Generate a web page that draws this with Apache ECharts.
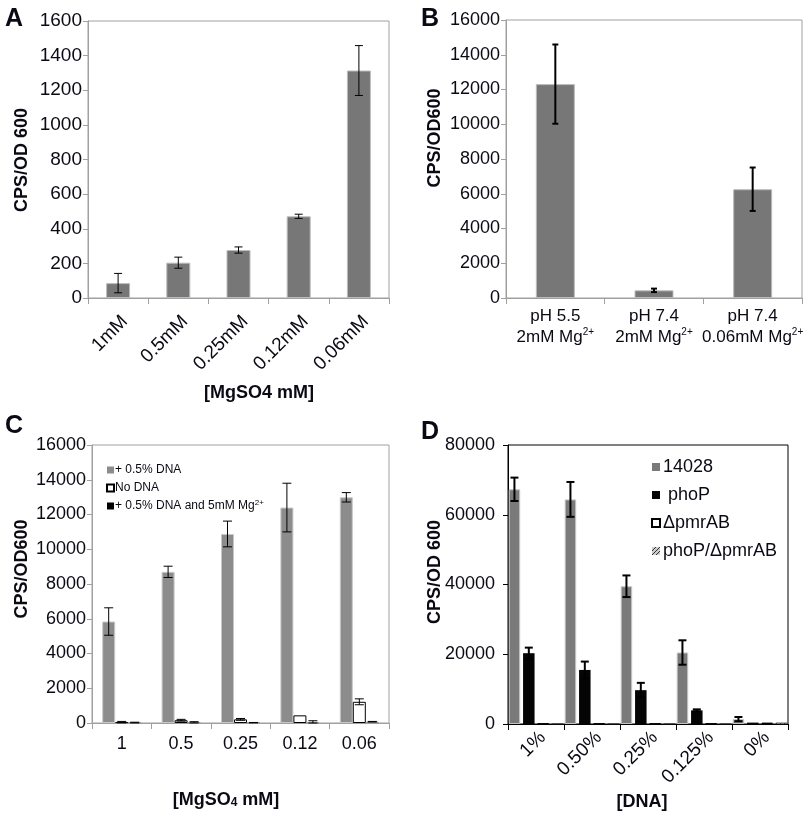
<!DOCTYPE html>
<html>
<head>
<meta charset="utf-8">
<script src="https://cdn.jsdelivr.net/npm/echarts@6/dist/echarts.min.js"></script>
<style>
  html, body { margin: 0; padding: 0; background: #fff; }
  #chart { width: 809px; height: 817px; }
</style>
</head>
<body>
<div id="chart"></div>
<script>
// panel A
var aCats = ['1mM', '0.5mM', '0.25mM', '0.12mM', '0.06mM'];
var aVals = [86, 204, 277, 472, 1314];
var aErr = [56, 32, 18, 12, 144];

// panel B
var bCats = ['pH 5.5\n2mM Mg{s|2+}', 'pH 7.4\n2mM Mg{s|2+}', 'pH 7.4\n0.06mM Mg{s|2+}'];
var bVals = [12310, 440, 6260];
var bErr = [2280, 100, 1250];

// panel C
var cCats = ['1', '0.5', '0.25', '0.12', '0.06'];
var cNames = ['+ 0.5% DNA', 'No DNA', '+ 0.5% DNA and 5mM Mg2+'];
var cDna = [5840, 8700, 10880, 12400, 12990];
var cDnaErr = [790, 325, 740, 1400, 270];
var cNoDna = [50, 160, 210, 440, 1220];
var cNoDnaErr = [40, 50, 50, 0, 170];
var cDnaMg = [25, 40, 20, 60, 75];
var cDnaMgErr = [20, 35, 10, 70, 15];

// panel D
var dCats = ['1%', '0.50%', '0.25%', '0.125%', '0%'];
var dNames = ['14028', 'phoP', '\u0394pmrAB', 'phoP/\u0394pmrAB'];
var dWt = [67300, 64400, 39500, 20500, 1400];
var dWtErr = [3350, 5000, 3100, 3500, 600];
var dPhoP = [20300, 15500, 9700, 3900, 400];
var dPhoPErr = [1600, 2400, 2100, 300, 0];
var dPmr = [150, 150, 150, 150, 400];
var dPhoPPmr = [150, 150, 150, 150, 400];

var FONT = "'Liberation Sans', Arial, sans-serif";
var TXT = '#0a0a14';

// hatch pattern for phoP/ΔpmrAB
var hatch = document.createElement('canvas');
hatch.width = 4; hatch.height = 4;
(function () {
  var ctx = hatch.getContext('2d');
  ctx.fillStyle = '#ccc';
  ctx.fillRect(0, 0, 4, 4);
  ctx.strokeStyle = '#333';
  ctx.lineWidth = 1;
  ctx.beginPath();
  ctx.moveTo(0, 4); ctx.lineTo(4, 0);
  ctx.moveTo(-1, 1); ctx.lineTo(1, -1);
  ctx.moveTo(3, 5); ctx.lineTo(5, 3);
  ctx.stroke();
})();

function pairs(vals, errs) {
  return vals.map(function (v, i) { return [i, v, errs[i]]; });
}

// error bars drawn through the axes of one grid
function errSeries(idx, vals, errs, offset, cap, lw) {
  return {
    type: 'custom',
    xAxisIndex: idx,
    yAxisIndex: idx,
    z: 5,
    silent: true,
    data: pairs(vals, errs),
    encode: { x: 0, y: 1 },
    renderItem: function (params, api) {
      var x = api.value(0), v = api.value(1), e = api.value(2);
      if (!e) return null;
      var hi = api.coord([x, v + e]);
      var lo = api.coord([x, Math.max(0, v - e)]);
      var cx = hi[0] + offset;
      var st = { stroke: '#000', lineWidth: lw };
      return {
        type: 'group',
        children: [
          { type: 'line', shape: { x1: cx, y1: hi[1], x2: cx, y2: lo[1] }, style: st },
          { type: 'line', shape: { x1: cx - cap / 2, y1: hi[1], x2: cx + cap / 2, y2: hi[1] }, style: st },
          { type: 'line', shape: { x1: cx - cap / 2, y1: lo[1], x2: cx + cap / 2, y2: lo[1] }, style: st }
        ]
      };
    }
  };
}

function yAx(idx, max, interval, lineColor, margin, size) {
  return {
    type: 'value', gridIndex: idx, min: 0, max: max, interval: interval,
    splitLine: { show: false },
    axisLine: { show: true, lineStyle: { color: lineColor } },
    axisTick: { show: true, length: 5, lineStyle: { color: lineColor } },
    axisLabel: {
      color: TXT, fontSize: size, fontFamily: FONT, margin: margin,
      formatter: function (v) { return String(v); }
    }
  };
}

function xAx(idx, cats, lineColor, label) {
  return {
    type: 'category', gridIndex: idx, data: cats,
    axisLine: { show: true, lineStyle: { color: lineColor } },
    axisTick: { show: true, length: 6, lineStyle: { color: lineColor } },
    axisLabel: Object.assign({ color: TXT, fontFamily: FONT, interval: 0 }, label)
  };
}

function txt(text, x, y, size, rot, extra) {
  return {
    type: 'text', x: x, y: y, rotation: rot || 0,
    style: Object.assign({
      text: text, fill: TXT, font: 'bold ' + size + 'px ' + FONT,
      textAlign: 'center', textVerticalAlign: 'middle'
    }, extra || {})
  };
}

function legendItem(name, border) {
  return border ? name : { name: name, itemStyle: { borderWidth: 0 } };
}

var chart = echarts.init(document.getElementById('chart'));

var option = {
  animation: false,
  backgroundColor: '#fff',
  grid: [
    { left: 88, top: 21, width: 301, height: 277, show: true, borderColor: '#a0a0a0', borderWidth: 1 },
    { left: 506, top: 20, width: 296, height: 278, show: true, borderColor: '#a0a0a0', borderWidth: 1 },
    { left: 92, top: 445, width: 297, height: 278, show: true, borderColor: '#a0a0a0', borderWidth: 1 },
    { left: 508, top: 445, width: 280, height: 279, show: true, borderColor: '#000', borderWidth: 1 }
  ],
  xAxis: [
    xAx(0, aCats, '#a0a0a0', {
      fontSize: 19, rotate: 45, margin: 14, align: 'right', verticalAlign: 'top'
    }),
    xAx(1, bCats, '#a0a0a0', {
      fontSize: 17, lineHeight: 21, margin: 8,
      rich: { s: { fontSize: 10, verticalAlign: 'top', color: TXT, fontFamily: FONT, lineHeight: 21 } }
    }),
    xAx(2, cCats, '#a0a0a0', { fontSize: 18, margin: 12 }),
    xAx(3, dCats, '#000', {
      fontSize: 19, rotate: 45, margin: 4, align: 'right', verticalAlign: 'top'
    })
  ],
  yAxis: [
    yAx(0, 1600, 200, '#a0a0a0', 6, 19),
    yAx(1, 16000, 2000, '#a0a0a0', 6, 18),
    yAx(2, 16000, 2000, '#a0a0a0', 6, 18),
    yAx(3, 80000, 20000, '#000', 13, 18)
  ],
  legend: [
    {
      data: [legendItem(cNames[0]), legendItem(cNames[1], true), legendItem(cNames[2])],
      orient: 'vertical', left: 101, top: 458,
      icon: 'rect', itemWidth: 7, itemHeight: 7, itemGap: 4,
      textStyle: {
        fontSize: 12, lineHeight: 14, color: TXT, fontFamily: FONT, padding: [0, 0, 0, -4],
        rich: { sup: { fontSize: 8, verticalAlign: 'top', color: TXT, fontFamily: FONT } }
      },
      formatter: function (n) { return n.replace('Mg2+', 'Mg{sup|2+}'); }
    },
    {
      data: [legendItem(dNames[0]), legendItem(dNames[1]), legendItem(dNames[2], true), legendItem(dNames[3])],
      orient: 'vertical', left: 646, top: 452,
      icon: 'rect', itemWidth: 8, itemHeight: 8, itemGap: 8,
      textStyle: { fontSize: 18, lineHeight: 20, color: TXT, fontFamily: FONT, padding: [0, 0, 0, -2] },
      formatter: function (n) { return n === 'phoP' ? ' phoP' : n; }
    }
  ],
  series: [
    {
      type: 'bar', xAxisIndex: 0, yAxisIndex: 0, data: aVals, barWidth: 24,
      itemStyle: { color: '#777', borderColor: '#bcbcbc', borderWidth: 1 }
    },
    errSeries(0, aVals, aErr, 0, 8, 1),
    {
      type: 'bar', xAxisIndex: 1, yAxisIndex: 1, data: bVals, barWidth: 39,
      itemStyle: { color: '#777', borderColor: '#bcbcbc', borderWidth: 1 }
    },
    errSeries(1, bVals, bErr, 0, 6, 2),
    {
      name: cNames[0], type: 'bar', xAxisIndex: 2, yAxisIndex: 2, data: cDna, barWidth: 13, barGap: '0%',
      itemStyle: { color: '#8c8c8c', borderColor: '#c8c8c8', borderWidth: 1 }
    },
    {
      name: cNames[1], type: 'bar', xAxisIndex: 2, yAxisIndex: 2, data: cNoDna, barWidth: 13, barGap: '0%',
      itemStyle: { color: '#fff', borderColor: '#000', borderWidth: 1 }
    },
    {
      name: cNames[2], type: 'bar', xAxisIndex: 2, yAxisIndex: 2, data: cDnaMg, barWidth: 13, barGap: '0%',
      itemStyle: { color: '#000', borderColor: '#999', borderWidth: 1 }
    },
    errSeries(2, cDna, cDnaErr, -13, 9, 1),
    errSeries(2, cNoDna, cNoDnaErr, 0, 9, 1),
    errSeries(2, cDnaMg, cDnaMgErr, 13, 9, 1),
    {
      name: dNames[0], type: 'bar', xAxisIndex: 3, yAxisIndex: 3, data: dWt, barWidth: 11.5, barGap: '25%',
      itemStyle: { color: '#7a7a7a', borderColor: '#c4c4c4', borderWidth: 1 }
    },
    {
      name: dNames[1], type: 'bar', xAxisIndex: 3, yAxisIndex: 3, data: dPhoP, barWidth: 11.5, barGap: '25%',
      itemStyle: { color: '#050505' }
    },
    {
      name: dNames[2], type: 'bar', xAxisIndex: 3, yAxisIndex: 3, data: dPmr, barWidth: 11.5, barGap: '25%',
      itemStyle: { color: '#fff', borderColor: '#000', borderWidth: 1 }
    },
    {
      name: dNames[3], type: 'bar', xAxisIndex: 3, yAxisIndex: 3, data: dPhoPPmr, barWidth: 11.5, barGap: '25%',
      itemStyle: { color: { image: hatch, repeat: 'repeat' }, borderColor: '#333', borderWidth: 0.5 }
    },
    errSeries(3, dWt, dWtErr, -21.56, 8, 2),
    errSeries(3, dPhoP, dPhoPErr, -7.19, 8, 2)
  ],
  graphic: [
    txt('A', 14, 19, 25),
    txt('B', 430, 19, 25),
    txt('C', 14, 426, 25),
    txt('D', 430, 432, 25),
    txt('CPS/OD 600', 22, 160, 18, Math.PI / 2),
    txt('CPS/OD600', 435, 138, 18, Math.PI / 2),
    txt('CPS/OD600', 22, 569, 18, Math.PI / 2),
    txt('CPS/OD 600', 435, 572, 18, Math.PI / 2),
    txt('[MgSO4 mM]', 259, 393, 18),
    txt('[MgSO{sub|4} mM]', 226, 800, 18, 0, {
      rich: { sub: { fontSize: 12, fontWeight: 'bold', fontFamily: FONT, verticalAlign: 'bottom', fill: TXT } }
    }),
    txt('[DNA]', 642, 802, 18)
  ]
};

chart.setOption(option);
</script>
</body>
</html>
